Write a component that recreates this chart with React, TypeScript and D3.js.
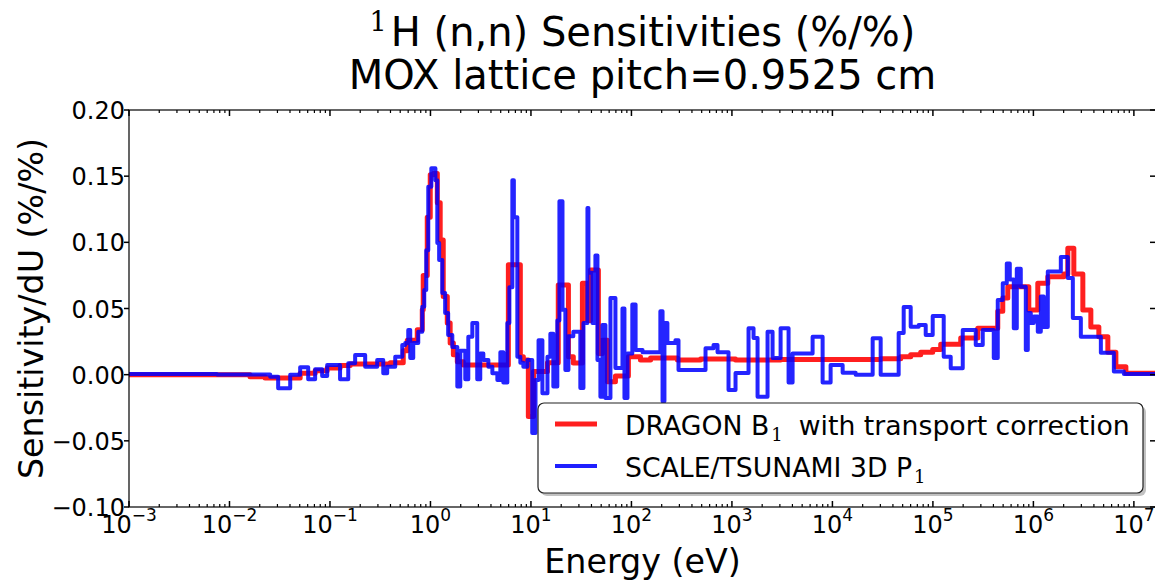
import React, { useEffect, useRef } from 'react';
import * as d3 from 'd3';

// step group start energies (eV) and sensitivities (%/%)
const redEnergy = [
  1e-3, 0.016, 0.0226, 0.0505, 0.0712, 0.0938, 0.126, 0.159, 0.398, 0.536,
  0.588, 0.739, 0.829, 0.847, 0.929, 0.995, 1.07, 1.17, 1.25, 1.34,
  1.47, 1.57, 1.69, 1.85, 2.12, 5.96, 7.84, 8.4, 9.42, 10.6,
  14.6, 18.7, 23.6, 26.4, 32.5, 36.5, 39.1, 46.9, 51.4, 57.7,
  69.3, 93.3, 123, 155, 287, 487, 1086, 3050, 30210, 47800,
  60110, 75600, 99540, 119600, 189200, 279500, 442000, 495700, 556200, 900200,
  1.106e6, 1.391e6, 2.009e6, 2.201e6, 2.526e6, 3.105e6, 3.73e6, 4.481e6, 5.508e6, 6.618e6,
  8.326e6,
];
const redValue = [
  0.0, -0.0015, -0.0025, 0.001, 0.003, 0.005, 0.007, 0.008, 0.009, 0.018,
  0.026, 0.034, 0.049, 0.075, 0.119, 0.151, 0.152, 0.13, 0.1017, 0.059,
  0.039, 0.024, 0.015, 0.0098, 0.0073, 0.083, 0.0136, 0.011, -0.0317, 0.0023,
  0.009, 0.0677, 0.0136, 0.0088, 0.069, 0.041, 0.079, 0.016, 0.026, -0.0053,
  -0.001, 0.0136, 0.011, 0.0126, 0.011, 0.0118, 0.011, 0.0115, 0.012, 0.0135,
  0.015, 0.017, 0.019, 0.023, 0.0277, 0.035, 0.048, 0.058, 0.0665, 0.0489,
  0.069, 0.074, 0.076, 0.0955, 0.076, 0.0489, 0.036, 0.0287, 0.017, 0.006,
  0.001,
];

const blueEnergy = [
  1e-3, 0.00752, 0.0254, 0.0305, 0.0402, 0.0505, 0.0607, 0.0712, 0.0836, 0.0938,
  0.126, 0.152, 0.178, 0.224, 0.295, 0.339, 0.371, 0.446, 0.524, 0.561,
  0.601, 0.629, 0.674, 0.756, 0.829, 0.867, 0.908, 0.951, 1.02, 1.12,
  1.17, 1.22, 1.31, 1.4, 1.5, 1.65, 1.85, 1.98, 2.22, 2.38,
  2.61, 2.92, 3.13, 3.36, 3.77, 4.13, 4.63, 4.96, 5.31, 5.82,
  6.1, 6.53, 6.76, 7.32, 7.84, 8.4, 9.21, 10.3, 11.1, 11.9,
  13.0, 14.6, 15.6, 16.7, 18.3, 19.2, 20.6, 22.0, 23.6, 26.4,
  31.0, 33.3, 36.5, 37.3, 40.9, 43.8, 45.9, 49.1, 51.4, 55.1,
  61.8, 69.3, 81.4, 85.2, 91.3, 102, 110, 129, 194, 204,
  213, 228, 274, 294, 546, 656, 719, 925, 1086, 1463,
  1641, 1799, 2262, 2538, 3050, 3662, 4015, 6351, 7988, 9596,
  12640, 17030, 25150, 30210, 45630, 51200, 60110, 72230, 84800, 99540,
  128100, 150400, 198100, 266900, 313300, 403300, 442000, 495700, 543500, 582300,
  638000, 683500, 749000, 840300, 879700, 942100, 1.009e6, 1.106e6, 1.185e6, 1.269e6,
  1.391e6, 1.875e6, 2.201e6, 2.469e6, 2.966e6, 4.692e6, 6.321e6, 7.953e6,
];
const blueValue = [
  0.0005, 0.0002, -0.0015, -0.0103, 0.0, 0.0056, -0.0035, 0.004, -0.001, 0.0073,
  -0.0035, 0.0086, 0.0149, 0.006, 0.011, 0.001, 0.006, 0.0136, 0.0224, 0.024,
  0.0338, 0.0126, 0.024, 0.0325, 0.0514, 0.064, 0.094, 0.142, 0.156, 0.147,
  0.0995, 0.0866, 0.0617, 0.0466, 0.03, 0.021, -0.009, 0.018, -0.0035, 0.0287,
  0.039, -0.0035, 0.016, 0.011, 0.006, 0.001, -0.004, 0.017, -0.006, 0.039,
  0.066, 0.147, 0.119, 0.0136, 0.009, 0.006, 0.011, -0.044, -0.004, 0.026,
  -0.014, 0.0136, 0.031, -0.009, 0.041, 0.131, 0.049, 0.0035, 0.029, 0.0325,
  -0.01, 0.039, 0.126, 0.077, 0.039, 0.09, 0.011, -0.0166, 0.0375, -0.0176,
  0.058, 0.005, 0.05, -0.0176, 0.016, 0.053, 0.0187, 0.017, 0.048, -0.02,
  0.039, 0.024, 0.026, 0.0035, 0.02, 0.0224, 0.017, -0.0116, 0.0012, 0.035,
  0.0277, -0.0166, 0.0325, 0.0126, 0.035, -0.006, 0.016, 0.0287, -0.006, 0.0073,
  0.0015, 0.0, 0.0275, 0.0, 0.0315, 0.0511, 0.0363, 0.0375, 0.03, 0.0443,
  0.0136, 0.0048, 0.0338, 0.0224, 0.0338, 0.0126, 0.0564, 0.069, 0.084, 0.072,
  0.035, 0.08, 0.0665, 0.0187, 0.0466, 0.039, 0.044, 0.0325, 0.059, 0.036,
  0.078, 0.089, 0.073, 0.0428, 0.0287, 0.0166, 0.0023, 0.0005,
];

const energyMin = 1e-3;
const energyMax = 1.66e7;
const yTicks = [-0.1, -0.05, 0, 0.05, 0.1, 0.15, 0.2];
const xDecades = [-3, -2, -1, 0, 1, 2, 3, 4, 5, 6, 7];

const W = 1155;
const H = 580;
const margin = { top: 110, right: -1, bottom: 73, left: 129 };
const font = "'DejaVu Sans', sans-serif";
const serif = "'DejaVu Serif', serif";

export default function App() {
  const svgRef = useRef<SVGSVGElement>(null);

  useEffect(() => {
    if (!svgRef.current) return;
    const svg = d3.select(svgRef.current);
    svg.selectAll('*').remove();

    const x = d3.scaleLog().domain([energyMin, energyMax]).range([margin.left, W - margin.right]);
    const y = d3.scaleLinear().domain([-0.1, 0.2]).range([H - margin.bottom, margin.top]);
    const x0 = margin.left, x1 = W - margin.right, y0 = H - margin.bottom, y1 = margin.top;

    svg.append('rect').attr('width', W).attr('height', H).attr('fill', 'white');

    svg.append('defs').append('clipPath').attr('id', 'plot-clip')
      .append('rect').attr('x', x0).attr('y', y1).attr('width', x1 - x0).attr('height', y0 - y1);

    const line = d3.line<[number, number]>()
      .x(d => x(d[0]))
      .y(d => y(d[1]))
      .curve(d3.curveStepAfter);

    const points = (e: number[], v: number[]): [number, number][] => [
      ...e.map((en, i) => [en, v[i]] as [number, number]),
      [energyMax * 1.5, v[v.length - 1]],
    ];

    const plot = svg.append('g').attr('clip-path', 'url(#plot-clip)');
    plot.append('path')
      .attr('d', line(points(redEnergy, redValue)))
      .attr('fill', 'none')
      .attr('stroke', '#ff0000')
      .attr('stroke-opacity', 0.88)
      .attr('stroke-width', 5)
      .attr('stroke-linejoin', 'round');
    plot.append('path')
      .attr('d', line(points(blueEnergy, blueValue)))
      .attr('fill', 'none')
      .attr('stroke', '#0000ff')
      .attr('stroke-opacity', 0.86)
      .attr('stroke-width', 4)
      .attr('stroke-linejoin', 'round');

    // frame
    svg.append('rect')
      .attr('x', x0).attr('y', y1).attr('width', x1 - x0).attr('height', y0 - y1)
      .attr('fill', 'none').attr('stroke', 'black').attr('stroke-width', 1.2);

    const ticks = svg.append('g').attr('stroke', 'black').attr('stroke-width', 1.5);

    // y ticks and labels
    yTicks.forEach(t => {
      const yy = y(t);
      ticks.append('line').attr('x1', x0 - 5).attr('x2', x0).attr('y1', yy).attr('y2', yy);
      ticks.append('line').attr('x1', x1 - 6).attr('x2', x1).attr('y1', yy).attr('y2', yy);
      svg.append('text')
        .attr('x', x0 - 4).attr('y', yy + 9)
        .attr('text-anchor', 'end')
        .attr('font-family', font).attr('font-size', 24)
        .text(d3.format('.2f')(t).replace('-', '\u2212'));
    });

    // x ticks (major + minor)
    xDecades.forEach(k => {
      const e = Math.pow(10, k);
      const xx = x(e);
      ticks.append('line').attr('x1', xx).attr('x2', xx).attr('y1', y0).attr('y2', y0 - 6);
      ticks.append('line').attr('x1', xx).attr('x2', xx).attr('y1', y1).attr('y2', y1 + 6);
      for (let m = 2; m <= 9; m++) {
        const em = m * e;
        if (em > energyMax) break;
        const xm = x(em);
        ticks.append('line').attr('x1', xm).attr('x2', xm).attr('y1', y0).attr('y2', y0 - 3).attr('stroke-width', 1.2);
        ticks.append('line').attr('x1', xm).attr('x2', xm).attr('y1', y1).attr('y2', y1 + 3).attr('stroke-width', 1.2);
      }
      const lab = svg.append('text')
        .attr('x', xx).attr('y', 533)
        .attr('text-anchor', 'middle')
        .attr('font-family', font).attr('font-size', 24);
      lab.append('tspan').text('10');
      lab.append('tspan').attr('font-size', 17).attr('dy', -12)
        .text(k < 0 ? '\u2212' + Math.abs(k) : String(k));
    });

    // axis labels
    svg.append('text')
      .attr('x', (x0 + x1) / 2).attr('y', 573)
      .attr('text-anchor', 'middle')
      .attr('font-family', font).attr('font-size', 33.3)
      .text('Energy (eV)');
    svg.append('text')
      .attr('transform', `translate(43,${(y0 + y1) / 2}) rotate(-90)`)
      .attr('text-anchor', 'middle')
      .attr('font-family', font).attr('font-size', 33.3)
      .text('Sensitivity/dU (%/%)');

    // title
    const t1 = svg.append('text')
      .attr('x', (x0 + x1) / 2).attr('y', 46)
      .attr('text-anchor', 'middle')
      .attr('font-family', font).attr('font-size', 40);
    t1.append('tspan').attr('font-family', serif).attr('font-size', 27).attr('dy', -15).text('1');
    t1.append('tspan').attr('dy', 15).attr('dx', 4).text('H (n,n) Sensitivities (%/%)');
    svg.append('text')
      .attr('x', (x0 + x1) / 2).attr('y', 89)
      .attr('text-anchor', 'middle')
      .attr('font-family', font).attr('font-size', 40)
      .text('MOX lattice pitch=0.9525 cm');

    // legend
    const lg = svg.append('g');
    lg.append('rect')
      .attr('x', 541).attr('y', 406).attr('width', 605).attr('height', 90).attr('rx', 6)
      .attr('fill', '#999').attr('fill-opacity', 0.6);
    lg.append('rect')
      .attr('x', 538).attr('y', 403).attr('width', 605).attr('height', 90).attr('rx', 6)
      .attr('fill', 'white').attr('stroke', '#222').attr('stroke-width', 1.2);
    const entries = [
      { color: '#ff0000', width: 5, main: 'DRAGON B', rest: 'with transport correction' },
      { color: '#0000ff', width: 4, main: 'SCALE/TSUNAMI 3D P', rest: '' },
    ];
    entries.forEach((en, i) => {
      const ly = 424 + i * 42;
      lg.append('line')
        .attr('x1', 555).attr('x2', 597).attr('y1', ly).attr('y2', ly)
        .attr('stroke', en.color).attr('stroke-opacity', 0.88).attr('stroke-width', en.width);
      const tx = lg.append('text')
        .attr('x', 625).attr('y', ly + 11)
        .attr('font-family', font).attr('font-size', 26.7);
      tx.append('tspan').text(en.main);
      tx.append('tspan').attr('font-family', serif).attr('font-size', 18).attr('dy', 6).attr('dx', 2).text('1');
      if (en.rest) tx.append('tspan').attr('dy', -6).attr('dx', 16).text(en.rest);
    });
  }, []);

  return (
    <div style={{ position: 'fixed', left: 0, top: 0 }}>
      <svg ref={svgRef} width={W} height={H} />
    </div>
  );
}
